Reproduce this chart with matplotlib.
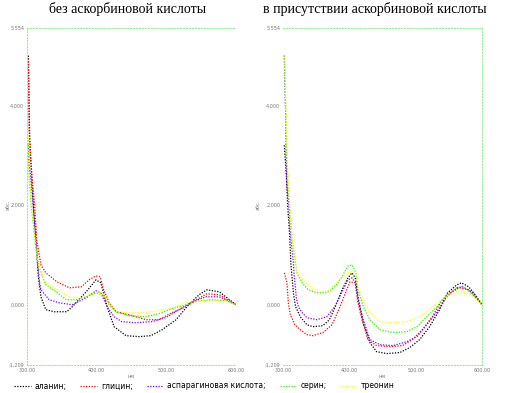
import matplotlib.pyplot as plt
import numpy as np

# --- data (wavelength nm, absorbance) ---
titles = ['без аскорбиновой кислоты', 'в присутствии аскорбиновой кислоты']
names = ['аланин;', 'глицин;', 'аспарагиновая кислота;', 'серин;', 'треонин']
colors = ['black', '#ff0000', '#7f00ff', '#33ee00', '#ffff00']

# left panel
L_black_x = [302, 303, 304, 307, 310, 313, 316, 320, 327, 339, 357, 365, 385, 399, 406, 415, 425,
             442, 461, 478, 494, 514, 532, 547, 558, 576, 587, 600]
L_black_y = [5.0, 4.0, 3.3, 2.5, 1.8, 1.3, 0.6, 0.16, -0.1, -0.14, -0.14, -0.04, 0.26, 0.5, 0.44,
             -0.04, -0.44, -0.62, -0.64, -0.62, -0.5, -0.3, 0.0, 0.2, 0.3, 0.26, 0.14, 0.0]
L_red_x = [302, 303, 305, 307, 311, 314, 320, 327, 343, 361, 378, 389, 399, 405, 410, 418, 428,
           446, 471, 489, 508, 528, 543, 558, 576, 600]
L_red_y = [4.94, 3.5, 3.0, 2.6, 2.0, 1.3, 0.8, 0.64, 0.46, 0.34, 0.36, 0.5, 0.58, 0.56, 0.3, 0.04,
           -0.14, -0.2, -0.3, -0.3, -0.16, -0.04, 0.1, 0.22, 0.2, 0.0]
L_purple_x = [302, 303, 305, 307, 310, 313, 315, 318, 320, 332, 346, 365, 385, 399, 406, 415, 425,
              436, 456, 479, 499, 518, 537, 557, 576, 600]
L_purple_y = [3.2, 2.8, 2.6, 2.3, 1.8, 1.2, 0.9, 0.45, 0.3, 0.1, 0.04, 0.0, 0.14, 0.28, 0.24, -0.04,
              -0.24, -0.34, -0.36, -0.34, -0.26, -0.1, 0.06, 0.16, 0.16, 0.0]
L_green_x = [302, 303, 306, 310, 314, 317, 327, 342, 356, 370, 385, 399, 408, 418, 428, 446, 471,
             489, 508, 528, 547, 566, 586, 600]
L_green_y = [3.3, 2.6, 2.0, 1.5, 1.0, 0.76, 0.4, 0.26, 0.1, 0.1, 0.16, 0.24, 0.2, 0.0, -0.14, -0.22,
             -0.24, -0.18, -0.08, 0.0, 0.08, 0.1, 0.08, 0.0]
L_yellow_x = [302, 303, 306, 310, 314, 318, 327, 342, 361, 380, 399, 408, 418, 429, 446, 471, 489,
              508, 528, 547, 566, 586, 600]
L_yellow_y = [3.4, 2.7, 2.1, 1.5, 1.0, 0.7, 0.45, 0.3, 0.16, 0.14, 0.26, 0.24, 0.04, -0.14, -0.16,
              -0.16, -0.12, -0.06, 0.04, 0.08, 0.1, 0.08, 0.0]

# right panel
R_black_x = [302, 305, 307, 310, 312, 316, 319, 326, 336, 345, 360, 370, 380, 389, 398, 404, 409,
             413, 421, 431, 441, 456, 476, 491, 506, 521, 536, 548, 562, 569, 580, 592, 600]
R_black_y = [3.2, 2.6, 2.0, 1.4, 0.8, 0.2, -0.04, -0.24, -0.4, -0.44, -0.42, -0.3, 0.0, 0.3, 0.54,
             0.64, 0.54, 0.16, -0.36, -0.76, -0.94, -0.98, -0.96, -0.86, -0.7, -0.44, -0.1, 0.24,
             0.4, 0.44, 0.36, 0.16, 0.0]
R_red_x = [302, 306, 308, 311, 318, 326, 336, 345, 360, 374, 386, 396, 401, 409, 413, 419, 428,
           441, 461, 480, 495, 510, 525, 540, 554, 566, 580, 600]
R_red_y = [0.64, 0.44, 0.04, -0.2, -0.4, -0.5, -0.6, -0.62, -0.56, -0.4, -0.04, 0.3, 0.46, 0.44,
           0.04, -0.3, -0.7, -0.82, -0.84, -0.82, -0.7, -0.5, -0.24, 0.1, 0.26, 0.34, 0.3, 0.0]
R_purple_x = [302, 304, 305, 306, 309, 311, 313, 315, 317, 318, 320, 323, 329, 336, 351, 366, 378,
              389, 398, 404, 409, 413, 421, 431, 446, 466, 487, 502, 517, 532, 547, 562, 571, 587, 600]
R_purple_y = [5.0, 3.8, 2.84, 2.4, 2.0, 1.5, 1.2, 0.95, 0.56, 0.44, 0.15, -0.04, -0.16, -0.26, -0.3,
              -0.24, -0.04, 0.26, 0.5, 0.54, 0.44, 0.1, -0.3, -0.7, -0.8, -0.82, -0.74, -0.64, -0.4,
              -0.14, 0.16, 0.34, 0.36, 0.24, 0.0]
R_green_x = [302, 305, 307, 311, 314, 318, 321, 329, 338, 351, 366, 378, 389, 398, 404, 410, 413,
             421, 431, 446, 466, 487, 502, 517, 532, 547, 562, 571, 587, 600]
R_green_y = [5.0, 3.4, 2.6, 1.8, 1.3, 0.9, 0.64, 0.44, 0.3, 0.24, 0.24, 0.36, 0.56, 0.78, 0.8, 0.64,
             0.3, -0.04, -0.3, -0.5, -0.56, -0.54, -0.44, -0.24, -0.04, 0.2, 0.34, 0.36, 0.2, 0.0]
R_yellow_x = [303, 305, 307, 310, 313, 316, 321, 330, 341, 356, 371, 381, 390, 401, 409, 413, 421,
              431, 446, 466, 487, 502, 517, 532, 547, 562, 577, 592, 600]
R_yellow_y = [5.0, 3.6, 2.8, 2.0, 1.4, 1.0, 0.64, 0.5, 0.36, 0.26, 0.3, 0.44, 0.56, 0.66, 0.64, 0.36,
              0.06, -0.16, -0.34, -0.36, -0.34, -0.26, -0.14, 0.04, 0.18, 0.26, 0.24, 0.12, 0.0]

left = [(L_black_x, L_black_y), (L_red_x, L_red_y), (L_purple_x, L_purple_y),
        (L_green_x, L_green_y), (L_yellow_x, L_yellow_y)]
right = [(R_black_x, R_black_y), (R_red_x, R_red_y), (R_purple_x, R_purple_y),
         (R_green_x, R_green_y), (R_yellow_x, R_yellow_y)]

y_ticks = [-1.209, 0.0, 2.0, 4.0, 5.554]
y_ticklabels = ['-1,209', '0,000', '2,000', '4,000', '5,554']
x_ticks = [300, 400, 500, 600]
x_ticklabels = ['300.00', '400.00', '500.00', '600.00']

fig = plt.figure(figsize=(5.09, 3.93), dpi=100)
ax1 = fig.add_axes([27 / 509, 1 - 365 / 393, 209 / 509, 337 / 393])
ax2 = fig.add_axes([283 / 509, 1 - 365 / 393, 199 / 509, 337 / 393])

# per panel: axes, curves, framed side, title x, y-label x, x-label x (pixels)
panels = [(ax1, left, 'left', 128, 8, 131, titles[0]),
          (ax2, right, 'right', 375, 258, 382, titles[1])]

handles = []
for ax, series, side, tx, ylx, xlx, title in panels:
    for (xs, ys), c, name in zip(series, colors, names):
        ln, = ax.plot(xs, ys, color=c, lw=0.9, linestyle=(0, (1, 1.2)), label=name)
        if ax is ax1:
            handles.append(ln)
    ax.set_xlim(300, 600)
    ax.set_ylim(-1.209, 5.554)
    ax.set_xticks(x_ticks)
    ax.set_xticklabels(x_ticklabels)
    ax.set_yticks(y_ticks)
    ax.set_yticklabels(y_ticklabels)
    ax.tick_params(length=0, labelsize=3.5, labelcolor='#777777', pad=2)
    for s in ax.spines.values():
        s.set_visible(False)
    for s in ['top', 'bottom', side]:
        ax.spines[s].set_visible(True)
        ax.spines[s].set_color('#99ee99')
        ax.spines[s].set_linestyle(':')
        ax.spines[s].set_linewidth(0.8)
    fig.text(ylx / 509, 1 - 205 / 393, 'абс.', rotation=90, ha='center', va='center',
             fontsize=3.5, color='#777777')
    fig.text(xlx / 509, 1 - 377 / 393, 'нм', ha='center', va='center',
             fontsize=3.5, color='#777777')
    fig.text(tx / 509, 1 - 9 / 393, title, ha='center', va='center',
             fontsize=10, family='Liberation Serif')

fig.legend(handles=handles, loc='center left', bbox_to_anchor=(10 / 509, 1 - 386 / 393), ncol=5,
           frameon=False, fontsize=5.5, handlelength=2.2, handletextpad=0.5,
           columnspacing=1.8, borderpad=0.0)

plt.savefig('out.png', dpi=100, facecolor='white')
